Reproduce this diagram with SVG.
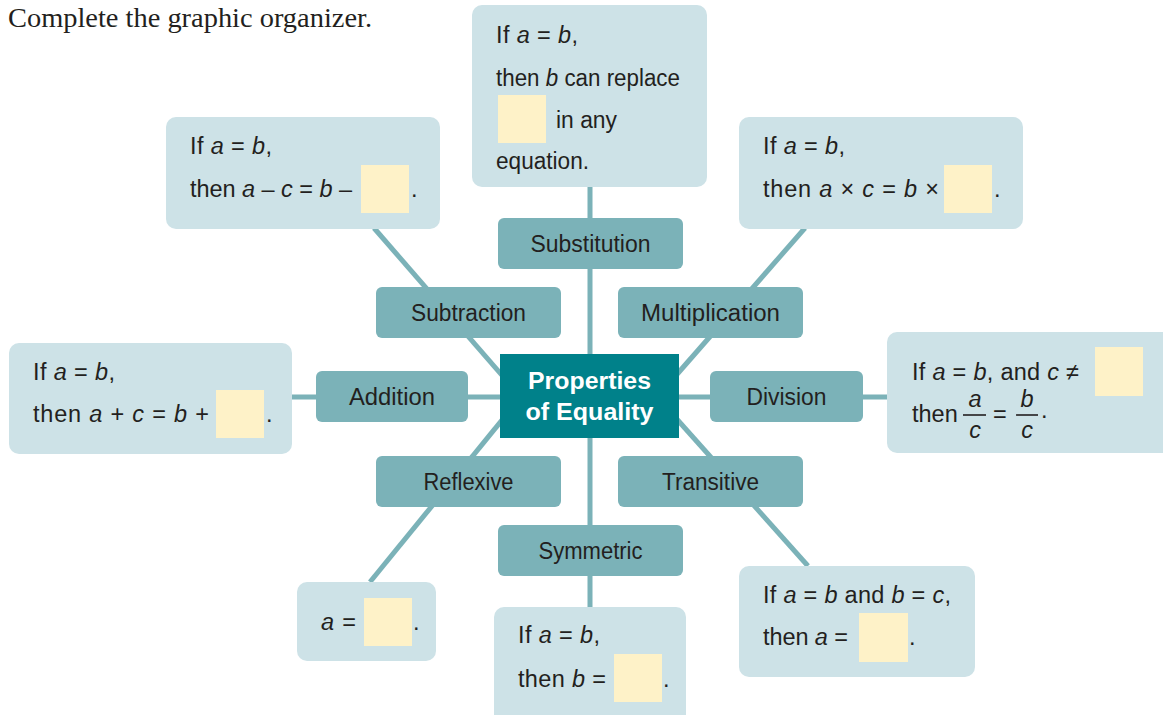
<svg xmlns="http://www.w3.org/2000/svg" width="1163" height="715" viewBox="0 0 1163 715">
<style>
.bubble{fill:#cde2e7}
.label{fill:#7bb2b8}
.blank{fill:#fef2c8}
.t{font-family:"Liberation Sans",Arial,sans-serif;font-size:23.5px;fill:#231f20}
.lt{font-family:"Liberation Sans",Arial,sans-serif;font-size:23.5px;fill:#231f20;text-anchor:middle}
.i{font-style:italic}
.conn{stroke:#7bb2b8;stroke-width:5;fill:none}
.bar{stroke:#231f20;stroke-width:1.6}
.ct{font-family:"Liberation Sans",Arial,sans-serif;font-size:24.5px;font-weight:bold;fill:#ffffff;text-anchor:middle}
</style>
<rect width="1163" height="715" fill="#ffffff"/>
<text x="8" y="27" font-family="'Liberation Serif','Times New Roman',serif" font-size="27" fill="#231f20" textLength="364" lengthAdjust="spacingAndGlyphs">Complete the graphic organizer.</text>

<g id="connectors">
<line class="conn" x1="590" y1="186" x2="590" y2="608"/>
<line class="conn" x1="291" y1="397" x2="889" y2="397"/>
<line class="conn" x1="374" y1="228" x2="520" y2="396"/>
<line class="conn" x1="370" y1="582" x2="520" y2="398"/>
<line class="conn" x1="805" y1="228" x2="658" y2="396"/>
<line class="conn" x1="808" y1="566" x2="658" y2="398"/>
</g>

<g id="center">
<rect x="500" y="354" width="179" height="84" fill="#00818a"/>
<text class="ct" x="589.5" y="389" textLength="123" lengthAdjust="spacingAndGlyphs">Properties</text>
<text class="ct" x="589.5" y="420" textLength="128" lengthAdjust="spacingAndGlyphs">of Equality</text>
</g>

<g id="label-substitution"><rect class="label" x="498" y="218" width="185" height="51" rx="6"/><text class="lt" x="590.5" y="252" textLength="120" lengthAdjust="spacingAndGlyphs">Substitution</text></g>
<g id="label-subtraction"><rect class="label" x="376" y="287" width="185" height="51" rx="6"/><text class="lt" x="468.5" y="321" textLength="115" lengthAdjust="spacingAndGlyphs">Subtraction</text></g>
<g id="label-multiplication"><rect class="label" x="618" y="287" width="185" height="51" rx="6"/><text class="lt" x="710.5" y="321" textLength="139" lengthAdjust="spacingAndGlyphs">Multiplication</text></g>
<g id="label-addition"><rect class="label" x="316" y="371" width="152" height="51" rx="6"/><text class="lt" x="392" y="405" textLength="86" lengthAdjust="spacingAndGlyphs">Addition</text></g>
<g id="label-division"><rect class="label" x="710" y="371" width="153" height="51" rx="6"/><text class="lt" x="786.5" y="405" textLength="80" lengthAdjust="spacingAndGlyphs">Division</text></g>
<g id="label-reflexive"><rect class="label" x="376" y="456" width="185" height="51" rx="6"/><text class="lt" x="468.5" y="490" textLength="90" lengthAdjust="spacingAndGlyphs">Reflexive</text></g>
<g id="label-transitive"><rect class="label" x="618" y="456" width="185" height="51" rx="6"/><text class="lt" x="710.5" y="490" textLength="97" lengthAdjust="spacingAndGlyphs">Transitive</text></g>
<g id="label-symmetric"><rect class="label" x="498" y="525" width="185" height="51" rx="6"/><text class="lt" x="590.5" y="559" textLength="104" lengthAdjust="spacingAndGlyphs">Symmetric</text></g>

<g id="bubble-substitution">
<rect class="bubble" x="472" y="5" width="235" height="182" rx="10"/>
<text class="t" x="496" y="43" textLength="82" lengthAdjust="spacing">If <tspan class="i">a</tspan> = <tspan class="i">b</tspan>,</text>
<text class="t" x="496" y="86" textLength="184" lengthAdjust="spacingAndGlyphs">then <tspan class="i">b</tspan> can replace</text>
<rect class="blank" x="498" y="95" width="48" height="48"/>
<text class="t" x="556" y="128" textLength="61" lengthAdjust="spacingAndGlyphs">in any</text>
<text class="t" x="496" y="169" textLength="93" lengthAdjust="spacingAndGlyphs">equation.</text>
</g>

<g id="bubble-subtraction">
<rect class="bubble" x="166" y="117" width="274" height="112" rx="10"/>
<text class="t" x="190" y="154" textLength="82" lengthAdjust="spacing">If <tspan class="i">a</tspan> = <tspan class="i">b</tspan>,</text>
<text class="t" x="190" y="197" textLength="162" lengthAdjust="spacing">then <tspan class="i">a</tspan> – <tspan class="i">c</tspan> = <tspan class="i">b</tspan> –</text>
<rect class="blank" x="361" y="165" width="48" height="48"/>
<text class="t" x="411" y="197">.</text>
</g>

<g id="bubble-multiplication">
<rect class="bubble" x="739" y="117" width="284" height="112" rx="10"/>
<text class="t" x="763" y="154" textLength="82" lengthAdjust="spacing">If <tspan class="i">a</tspan> = <tspan class="i">b</tspan>,</text>
<text class="t" x="763" y="197" textLength="176" lengthAdjust="spacing">then <tspan class="i">a</tspan> × <tspan class="i">c</tspan> = <tspan class="i">b</tspan> ×</text>
<rect class="blank" x="944" y="165" width="48" height="48"/>
<text class="t" x="994" y="197">.</text>
</g>

<g id="bubble-addition">
<rect class="bubble" x="9" y="343" width="283" height="111" rx="10"/>
<text class="t" x="33" y="380" textLength="82" lengthAdjust="spacing">If <tspan class="i">a</tspan> = <tspan class="i">b</tspan>,</text>
<text class="t" x="33" y="422" textLength="176" lengthAdjust="spacing">then <tspan class="i">a</tspan> + <tspan class="i">c</tspan> = <tspan class="i">b</tspan> +</text>
<rect class="blank" x="216" y="390" width="48" height="48"/>
<text class="t" x="266" y="422">.</text>
</g>

<g id="bubble-division">
<rect class="bubble" x="887" y="332" width="285" height="121" rx="10"/>
<text class="t" x="912" y="380" textLength="167" lengthAdjust="spacing">If <tspan class="i">a</tspan> = <tspan class="i">b</tspan>, and <tspan class="i">c</tspan> ≠</text>
<rect class="blank" x="1095" y="347" width="48" height="49"/>
<text class="t" x="912" y="422">then</text>
<text class="t i" x="975" y="407" text-anchor="middle">a</text>
<line class="bar" x1="963" y1="415" x2="986" y2="415"/>
<text class="t i" x="975" y="438" text-anchor="middle">c</text>
<text class="t" x="993" y="422">=</text>
<text class="t i" x="1027" y="407" text-anchor="middle">b</text>
<line class="bar" x1="1016" y1="415" x2="1038" y2="415"/>
<text class="t i" x="1027" y="438" text-anchor="middle">c</text>
<text class="t" x="1041" y="418">.</text>
</g>

<g id="bubble-reflexive">
<rect class="bubble" x="297" y="582" width="139" height="79" rx="10"/>
<text class="t" x="321" y="630" textLength="35" lengthAdjust="spacing"><tspan class="i">a</tspan> =</text>
<rect class="blank" x="364" y="598" width="48" height="48"/>
<text class="t" x="413" y="630">.</text>
</g>

<g id="bubble-symmetric">
<rect class="bubble" x="494" y="607" width="192" height="120" rx="10"/>
<text class="t" x="518" y="643" textLength="82" lengthAdjust="spacing">If <tspan class="i">a</tspan> = <tspan class="i">b</tspan>,</text>
<text class="t" x="518" y="687" textLength="88" lengthAdjust="spacing">then <tspan class="i">b</tspan> =</text>
<rect class="blank" x="614" y="654" width="48" height="48"/>
<text class="t" x="663" y="687">.</text>
</g>

<g id="bubble-transitive">
<rect class="bubble" x="739" y="566" width="236" height="111" rx="10"/>
<text class="t" x="763" y="603" textLength="188" lengthAdjust="spacing">If <tspan class="i">a</tspan> = <tspan class="i">b</tspan> and <tspan class="i">b</tspan> = <tspan class="i">c</tspan>,</text>
<text class="t" x="763" y="645" textLength="85" lengthAdjust="spacing">then <tspan class="i">a</tspan> =</text>
<rect class="blank" x="859" y="613" width="49" height="49"/>
<text class="t" x="909" y="645">.</text>
</g>
</svg>
